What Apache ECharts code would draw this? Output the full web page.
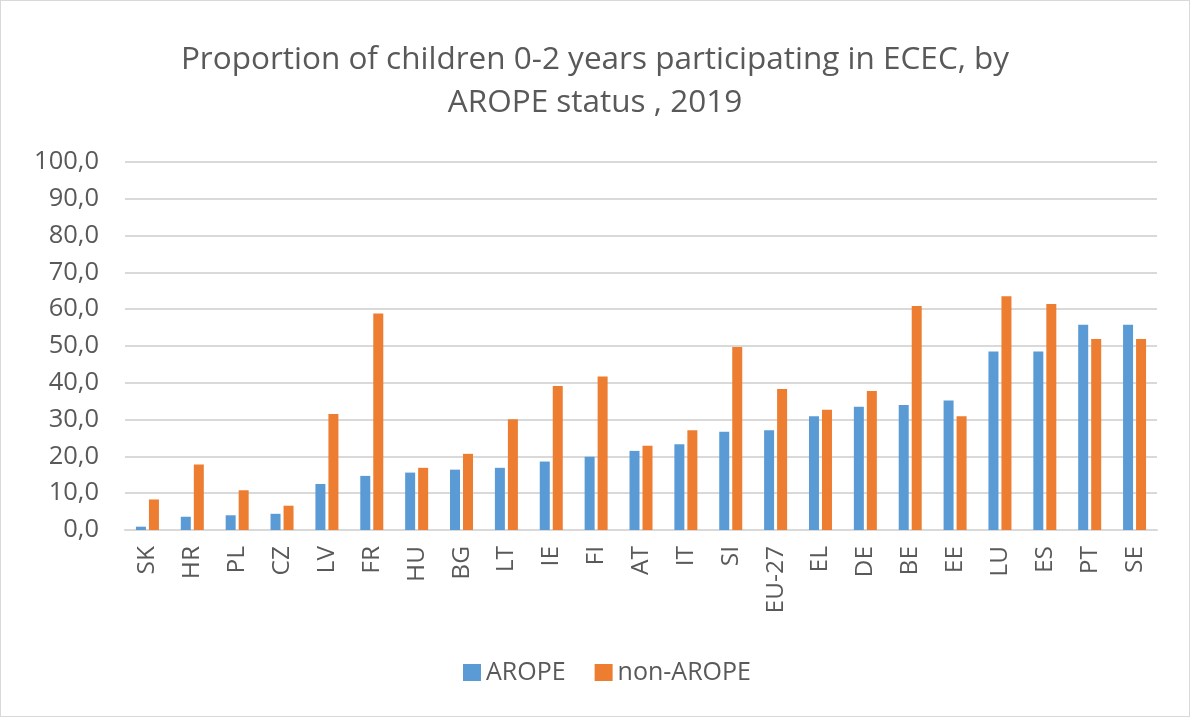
<!DOCTYPE html>
<html>
<head>
<meta charset="utf-8">
<script src="https://cdn.jsdelivr.net/npm/echarts@6/dist/echarts.min.js"></script>
<style>
  html, body { margin: 0; padding: 0; background: #fff; }
  #chart { width: 1190px; height: 717px; box-sizing: border-box; border: 1px solid #d9d9d9; }
</style>
</head>
<body>
<div id="chart"></div>
<script>
// Data
const countries = ['SK', 'HR', 'PL', 'CZ', 'LV', 'FR', 'HU', 'BG', 'LT', 'IE', 'FI', 'AT',
  'IT', 'SI', 'EU-27', 'EL', 'DE', 'BE', 'EE', 'LU', 'ES', 'PT', 'SE'];
const arope = [0.9, 3.6, 4.0, 4.4, 12.5, 14.7, 15.6, 16.4, 16.9, 18.6, 19.9, 21.5,
  23.3, 26.7, 27.1, 30.9, 33.5, 34.0, 35.2, 48.5, 48.5, 55.8, 55.8];
const nonArope = [8.3, 17.8, 10.8, 6.6, 31.5, 58.8, 16.9, 20.7, 30.1, 39.1, 41.7, 22.9,
  27.1, 49.7, 38.3, 32.7, 37.8, 60.9, 30.9, 63.5, 61.4, 51.9, 51.9];
const titleLines = ['Proportion of children 0-2 years participating in ECEC, by', 'AROPE status , 2019'];

const font = '"Open Sans", "Liberation Sans", sans-serif';
const textGray = '#595959';

const chart = echarts.init(document.getElementById('chart'));

chart.setOption({
  backgroundColor: '#fff',
  animation: false,
  textStyle: { fontFamily: font },
  title: {
    text: titleLines.join('\n'),
    left: 'center',
    top: 33,
    textStyle: { color: textGray, fontSize: 31.5, fontWeight: 'normal', lineHeight: 43, fontFamily: font }
  },
  legend: {
    bottom: 26,
    left: 457,
    itemWidth: 18,
    itemHeight: 17,
    itemGap: 29,
    icon: 'rect',
    textStyle: { color: textGray, fontSize: 25, fontFamily: font },
    data: ['AROPE', 'non-AROPE']
  },
  grid: { left: 124, right: 32, top: 161, bottom: 186 },
  xAxis: {
    type: 'category',
    data: countries,
    axisLine: { lineStyle: { color: '#d9d9d9', width: 2 } },
    axisTick: { show: false },
    axisLabel: { rotate: 90, color: textGray, fontSize: 24.5, margin: 16, interval: 0, fontFamily: font }
  },
  yAxis: {
    type: 'value',
    min: 0,
    max: 100,
    interval: 10,
    axisLine: { show: false },
    axisTick: { show: false },
    splitLine: { lineStyle: { color: '#d9d9d9', width: 2 } },
    axisLabel: {
      color: textGray, fontSize: 25.5, margin: 26, fontFamily: font,
      formatter: v => v.toFixed(1).replace('.', ',')
    }
  },
  series: [
    {
      name: 'AROPE',
      type: 'bar',
      data: arope,
      barWidth: 10,
      barGap: '30%',
      itemStyle: { color: '#5B9BD5' }
    },
    {
      name: 'non-AROPE',
      type: 'bar',
      data: nonArope,
      barWidth: 10,
      itemStyle: { color: '#ED7D31' }
    }
  ]
});
</script>
</body>
</html>
